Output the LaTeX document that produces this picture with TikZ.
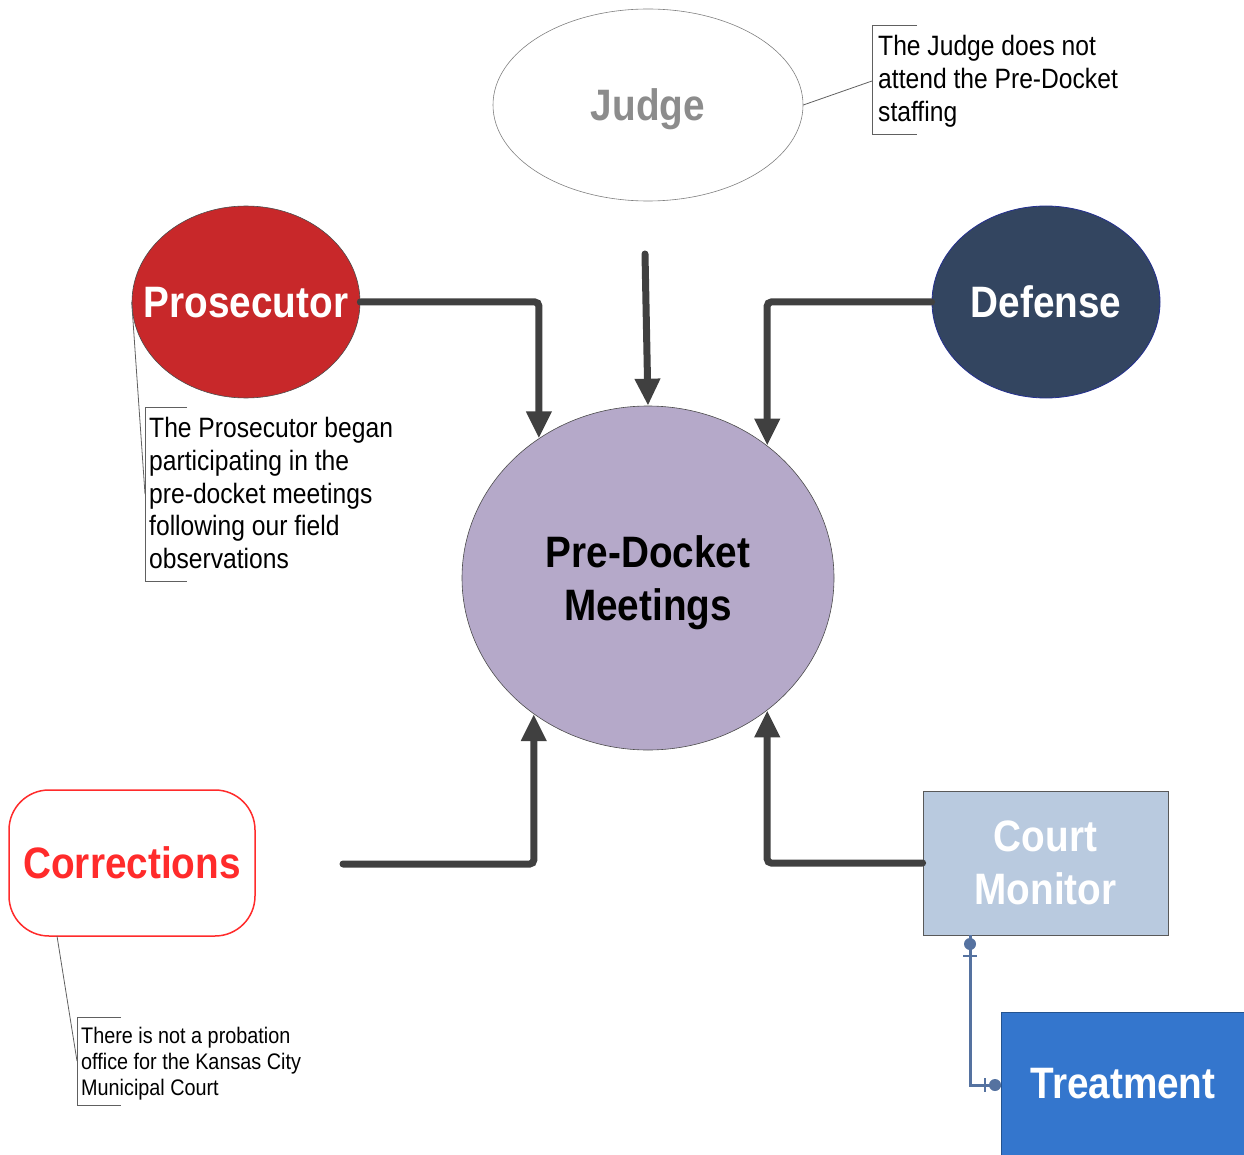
\documentclass[tikz,border=0pt]{standalone}
\usepackage{fontspec}
\setmainfont{Liberation Sans}
\newfontfamily\narrowsans[FakeStretch=0.88]{Liberation Sans}
\usetikzlibrary{shapes.geometric,arrows.meta,calc}

\definecolor{prosred}{HTML}{C8282A}
\definecolor{defblue}{HTML}{334560}
\definecolor{meetlilac}{HTML}{B5A9C9}
\definecolor{monitorblue}{HTML}{B9CADF}
\definecolor{treatblue}{HTML}{3476CD}
\definecolor{corrred}{HTML}{FF2B2B}
\definecolor{judgegray}{HTML}{8C8C8C}
\definecolor{flowgray}{HTML}{404040}
\definecolor{linkblue}{HTML}{5572A0}
\definecolor{notegray}{HTML}{606060}

\tikzset{
  headtext/.style={font=\narrowsans\bfseries\fontsize{44}{53}\selectfont, align=center, inner sep=0pt},
  oval/.style={ellipse, inner sep=0pt, text depth=0pt},
  flow/.style={draw=flowgray, line width=7pt, line cap=round, rounded corners=4pt,
    -{Triangle[length=27pt,width=24pt]}},
  notetext/.style={font=\narrowsans\fontsize{28}{32.8}\selectfont, align=left, inner sep=0pt, anchor=north west, text=black},
  smallnote/.style={font=\narrowsans\fontsize{22.5}{26}\selectfont, align=left, inner sep=0pt, anchor=north west, text=black},
  leader/.style={draw=notegray, line width=0.8pt},
  link/.style={draw=linkblue, line width=3pt},
}

\begin{document}
\begin{tikzpicture}[x=1pt,y=-1pt]
\useasboundingbox (0,0) rectangle (1244,1155);

% participants
\node[oval, headtext, draw=gray, line width=0.6pt, fill=white, text=judgegray,
  minimum width=310pt, minimum height=192pt] (judge) at (648,105) {Judge};
\node[oval, headtext, draw=black!70, line width=0.6pt, fill=prosred, text=white,
  minimum width=228pt, minimum height=192pt] (pros) at (246,302) {\makebox[0pt]{Prosecutor}};
\node[oval, headtext, draw=defblue!70!blue, line width=0.8pt, fill=defblue, text=white,
  minimum width=228pt, minimum height=192pt] (def) at (1046,302) {\makebox[0pt]{Defense}};
\node[oval, headtext, draw=black!70, line width=0.6pt, fill=meetlilac, text=black,
  minimum width=372pt, minimum height=344pt] (meet) at (648,578) {Pre-Docket\\Meetings};
\node[rectangle, rounded corners=40pt, headtext, draw=corrred, line width=1.5pt, fill=white,
  text=corrred, minimum width=246pt, minimum height=146pt] (corr) at (132,863) {Corrections};
\node[rectangle, headtext, draw=black!65, line width=0.8pt, fill=monitorblue, text=white,
  minimum width=245pt, minimum height=144pt] (mon) at (1045.5,863) {Court\\Monitor};
\node[rectangle, headtext, draw=treatblue!70!black, line width=0.6pt, fill=treatblue, text=white,
  minimum width=244pt, minimum height=144pt] (treat) at (1123,1084) {Treatment};

% free ends of the flows
\coordinate (judgein) at (645,254);
\coordinate (corrin) at (343,864);

% flows into the meeting
\draw[flow] (pros.east) -| (meet.128.8);
\draw[flow] (def.west) -| (meet.48.8);
\draw[flow] (judgein) -- (meet.north);
\draw[flow] (corrin) -| (meet.230.4);
\draw[flow] (mon.west) -| (meet.-48.8);

% monitor to treatment link
\coordinate (mbot) at (970,935);
\coordinate (lcorner) at (970,1085);
\coordinate (tleft) at (1001,1085);
\draw[link] (mbot) -- (lcorner) -- (tleft);
\fill[linkblue] (970,944) circle (6pt);
\draw[link, line width=2.5pt] (963,956) -- (977,956);
\fill[linkblue] (995,1085) circle (6pt);
\draw[link, line width=2.5pt] (985,1078) -- (985,1092);

% annotations
\node[notetext] (jnote) at (878,35) {The Judge does not\\attend the Pre-Docket\\staffing};
\coordinate (jbr) at (872,81);
\draw[leader] (917,25) -- (872,25) -- (872,134) -- (917,134);
\draw[leader] (judge.east) -- (jbr);

\node[notetext] (pnote) at (149,417) {The Prosecutor began\\participating in the\\pre-docket meetings\\following our field\\observations};
\coordinate (pbr) at (145,494);
\draw[leader] (187,407) -- (145,407) -- (145,581) -- (187,581);
\draw[leader] (pros.west) -- (pbr);

\node[smallnote] (cnote) at (81,1027) {There is not a probation\\office for the Kansas City\\Municipal Court};
\coordinate (ctop) at (57,936);
\coordinate (cbr) at (77,1061);
\draw[leader] (121,1017) -- (77,1017) -- (77,1105) -- (121,1105);
\draw[leader] (ctop) -- (cbr);
\end{tikzpicture}
\end{document}
